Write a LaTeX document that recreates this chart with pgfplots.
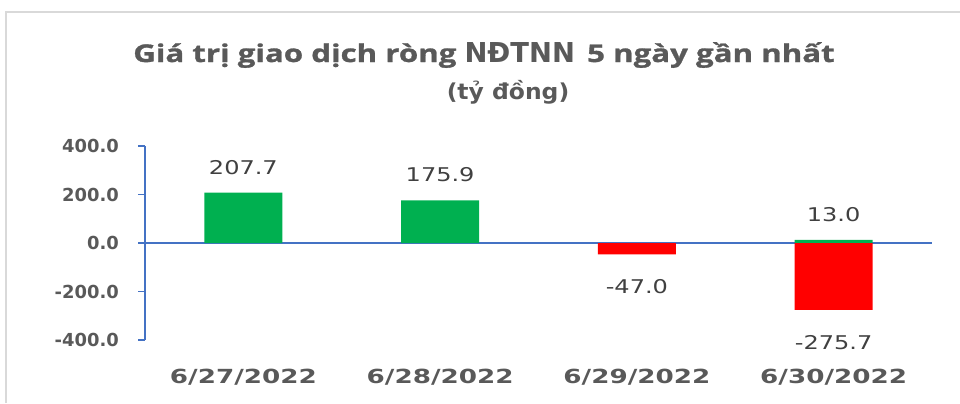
\documentclass[border=0pt]{standalone}
\usepackage{fontspec}
\setmainfont{Carlito}
\newfontfamily\ttl{Open Sans}[FakeStretch=1.28, FakeBold=1.2]
\newfontfamily\dvr{DejaVu Sans}[FakeStretch=1.27]
\newfontfamily\dvb{DejaVu Sans Bold}
\newfontfamily\dvx{DejaVu Sans Bold}[FakeStretch=1.35]
\newfontfamily\dvt{DejaVu Sans Bold}
\newfontfamily\dvl{DejaVu Sans Bold}[FakeStretch=1.07]
\usepackage{pgfplots}
\pgfplotsset{compat=1.18}
\definecolor{grn}{HTML}{00B050}
\definecolor{rd}{HTML}{FF0000}
\definecolor{axblue}{HTML}{4472C4}
\definecolor{txt}{HTML}{595959}
\definecolor{lbl}{HTML}{404040}
\begin{document}
\begin{tikzpicture}[x=1bp,y=1bp]
\useasboundingbox (0,0) rectangle (960,403);
\draw[color=black!15, line width=2bp] (6,0) -- (6,391) -- (960,391);
\node[text=txt, font=\ttl\fontsize{24.5}{28}\selectfont\bfseries, inner sep=0pt, anchor=base] at (484,341) {Giá trị giao dịch ròng {\dvt\fontsize{27.5}{30}\selectfont NĐTNN}\, 5 ngày gần nhất};
\node[text=txt, font=\dvl\fontsize{22}{26}\selectfont, inner sep=0pt, anchor=base] at (508,304) {(tỷ đồng)};
\begin{axis}[
  at={(145bp,63bp)}, anchor=south west,
  scale only axis, width=787bp, height=194bp,
  xmin=-0.5, xmax=3.5, ymin=-400, ymax=400,
  ytick={-400,-200,0,200,400},
  xtick={0,1,2,3},
  xticklabels={6/27/2022,6/28/2022,6/29/2022,6/30/2022},
  axis lines*=left,
  x axis line style={draw=none},
  y axis line style={axblue, line width=1.5bp},
  ytick style={axblue, line width=1.5bp},
  xtick style={draw=none},
  tick align=outside,
  major tick length=7bp,
  /pgf/number format/assume math mode=true,
  yticklabel style={/pgf/number format/.cd, fixed, fixed zerofill, precision=1, /tikz/.cd,
    font=\dvb\fontsize{18}{20}\selectfont, text=txt, inner xsep=0pt, xshift=-19bp},
  xticklabel style={font=\dvx\fontsize{19.5}{22}\selectfont, text=txt, inner sep=0pt, yshift=-22bp},
  nodes near coords={\pgfmathprintnumber[fixed, fixed zerofill, precision=1]{\pgfplotspointmeta}},
  every node near coord/.append style={font=\dvr\fontsize{19}{21}\selectfont, text=lbl, inner ysep=18bp},
  clip=false,
]
\draw[axblue, line width=1.5bp] (axis cs:-0.5,0) -- (axis cs:3.5,0);
\addplot[ybar, bar width=78bp, bar shift=0pt, fill=grn, draw=none] coordinates {(0,207.7) (1,175.9) (3,13.0)};
\addplot[ybar, bar width=78bp, bar shift=0pt, fill=rd, draw=none,
  every node near coord/.append style={yshift=-7bp}] coordinates {(2,-47.0) (3,-275.7)};
\end{axis}
\end{tikzpicture}
\end{document}
